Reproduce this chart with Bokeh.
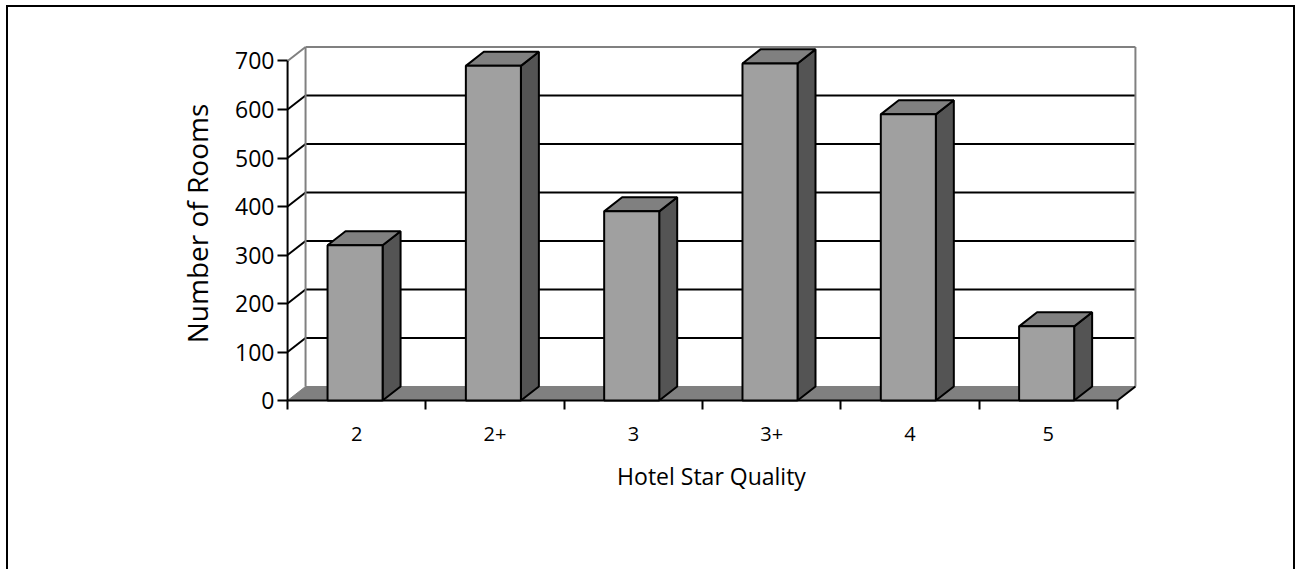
from bokeh.plotting import figure
from bokeh.models import Range1d, FixedTicker, InlineStyleSheet
from bokeh.embed import file_html
from bokeh.resources import INLINE

# ---- data ----
categories = ["2", "2+", "3", "3+", "4", "5"]
rooms = [320, 690, 390, 695, 590, 153]
y_ticks = [0, 100, 200, 300, 400, 500, 600, 700]
x_title = "Hotel Star Quality"
y_title = "Number of Rooms"

# ---- 3-D look (data units) ----
DX = 0.13      # depth offset along x (category units)
DY = 29.0      # depth offset along y (value units)
BAR_L = 0.289  # bar front-face left edge inside its category slot
BAR_R = 0.687  # bar front-face right edge
YMAX = y_ticks[-1]
N = len(categories)

FONT = "Open Sans"
C_FRONT = "#a0a0a0"
C_TOP = "#808080"
C_SIDE = "#545454"
C_FLOOR = "#808080"
C_WALL = "#808080"

p = figure(width=1296, height=569,
           x_range=Range1d(-0.015, N + DX + 0.015),
           y_range=Range1d(-4, YMAX + DY + 5),
           output_backend="svg", toolbar_location=None,
           min_border_left=285, min_border_right=159,
           min_border_top=44, min_border_bottom=167)
p.outline_line_color = None
p.xgrid.visible = False
p.ygrid.visible = False
p.background_fill_color = "white"
p.border_fill_color = "white"

# outer chart-area border (drawn by the page around the canvas)
p.stylesheets = [InlineStyleSheet(css="""
:host { position: relative; overflow: hidden; }
:host::after {
  content: ""; position: absolute; left: 6px; top: 5px;
  width: 1289px; height: 570px; box-sizing: border-box;
  border: 2px solid black; pointer-events: none; z-index: 10;
}
""")]

# back wall grid lines + diagonal lines on the side wall
inner = [t for t in y_ticks if 0 < t < YMAX]
p.segment(x0=[DX] * len(inner), y0=[t + DY for t in inner],
          x1=[N + DX] * len(inner), y1=[t + DY for t in inner],
          line_color="black", line_width=2)
p.segment(x0=[0] * len(inner), y0=inner,
          x1=[DX] * len(inner), y1=[t + DY for t in inner],
          line_color="black", line_width=2)

# wall borders (grey)
p.segment(x0=[DX, N + DX, DX, 0], y0=[YMAX + DY, DY, DY, YMAX],
          x1=[N + DX, N + DX, DX, DX], y1=[YMAX + DY, YMAX + DY, YMAX + DY, YMAX + DY],
          line_color=C_WALL, line_width=2)

# floor
p.patch(x=[0, N, N + DX, DX], y=[0, 0, DY, DY],
        fill_color=C_FLOOR, line_color=C_WALL, line_width=1)
# front axis lines
p.segment(x0=[0, 0, N], y0=[0, 0, 0], x1=[N, 0, N + DX], y1=[0, YMAX, DY],
          line_color="black", line_width=2)

# bars
for i, v in enumerate(rooms):
    l, r = i + BAR_L, i + BAR_R
    p.patch(x=[r, r + DX, r + DX, r], y=[0, DY, v + DY, v],
            fill_color=C_SIDE, line_color="black", line_width=2)
    p.patch(x=[l, r, r + DX, l + DX], y=[v, v, v + DY, v + DY],
            fill_color=C_TOP, line_color="black", line_width=2)
    p.quad(left=l, right=r, bottom=0, top=v,
           fill_color=C_FRONT, line_color="black", line_width=2)

# y axis
ya = p.yaxis[0]
ya.ticker = FixedTicker(ticks=y_ticks)
ya.axis_line_color = None
ya.major_tick_out = 8
ya.major_tick_in = 2
ya.major_tick_line_width = 2
ya.major_tick_line_color = "black"
ya.minor_tick_out = 0
ya.minor_tick_in = 0
ya.major_label_standoff = 3
ya.major_label_text_font = FONT
ya.major_label_text_font_size = "23px"
ya.major_label_text_color = "black"
ya.axis_label = y_title
ya.axis_label_text_font = FONT
ya.axis_label_text_font_size = "28px"
ya.axis_label_text_font_style = "normal"
ya.axis_label_text_color = "black"
ya.axis_label_standoff = 16

# x axis
xa = p.xaxis[0]
centers = [i + 0.5 for i in range(N)]
xa.ticker = FixedTicker(ticks=centers, minor_ticks=list(range(N + 1)))
xa.major_label_overrides = {c: lab for c, lab in zip(centers, categories)}
xa.axis_line_color = None
xa.major_tick_out = 0
xa.major_tick_in = 0
xa.minor_tick_out = 7
xa.minor_tick_in = 2
xa.minor_tick_line_width = 2
xa.minor_tick_line_color = "black"
xa.major_label_standoff = 17
xa.major_label_text_font = FONT
xa.major_label_text_font_size = "20px"
xa.major_label_text_color = "black"
xa.axis_label = x_title
xa.axis_label_text_font = FONT
xa.axis_label_text_font_size = "23px"
xa.axis_label_text_font_style = "normal"
xa.axis_label_text_color = "black"
xa.axis_label_standoff = 16

open("out.html", "w").write(file_html(p, INLINE))
